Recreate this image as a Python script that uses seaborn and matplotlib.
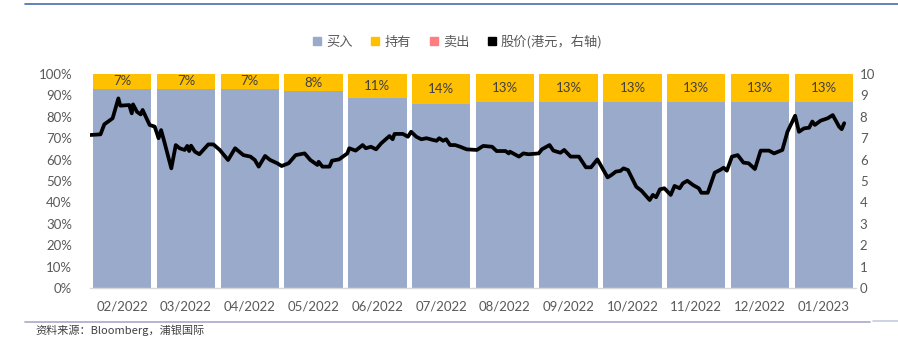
import matplotlib
matplotlib.use("Agg")
import matplotlib.pyplot as plt
from matplotlib.patches import Patch
from matplotlib.lines import Line2D
import seaborn as sns
import pandas as pd

# Analyst ratings share per month (%) and HK$ share price (right axis)
months = ["02/2022", "03/2022", "04/2022", "05/2022", "06/2022", "07/2022",
          "08/2022", "09/2022", "10/2022", "11/2022", "12/2022", "01/2023"]
buy = [93, 93, 93, 92, 89, 86, 87, 87, 87, 87, 87, 87]
hold = [7, 7, 7, 8, 11, 14, 13, 13, 13, 13, 13, 13]
sell = [0, 0, 0, 0, 0, 0, 0, 0, 0, 0, 0, 0]

# price timeline, in months elapsed since the start of 02/2022
price_t = [0.00, 0.16, 0.22, 0.35, 0.38, 0.44, 0.47, 0.61, 0.65, 0.67, 0.73, 0.79,
           0.82, 0.87, 0.93, 1.01, 1.07, 1.11, 1.16, 1.27, 1.34, 1.40, 1.48, 1.52,
           1.55, 1.58, 1.64, 1.71, 1.85, 1.93, 2.03, 2.16, 2.27, 2.40, 2.51, 2.58,
           2.64, 2.74, 2.82, 2.93, 3.00, 3.11, 3.22, 3.36, 3.45, 3.56, 3.58, 3.64,
           3.75, 3.79, 3.90, 4.03, 4.06, 4.16, 4.27, 4.32, 4.40, 4.48, 4.56, 4.69,
           4.74, 4.77, 4.90, 4.98, 5.03, 5.11, 5.19, 5.27, 5.37, 5.43, 5.47, 5.53,
           5.58, 5.64, 5.72, 5.80, 5.90, 6.06, 6.16, 6.30, 6.37, 6.51, 6.56, 6.58,
           6.72, 6.79, 6.87, 7.03, 7.08, 7.20, 7.26, 7.37, 7.43, 7.53, 7.66, 7.77,
           7.85, 7.95, 8.11, 8.17, 8.24, 8.31, 8.36, 8.43, 8.56, 8.64, 8.77, 8.82,
           8.87, 8.93, 9.00, 9.10, 9.16, 9.24, 9.29, 9.36, 9.45, 9.54, 9.58, 9.68,
           9.79, 9.87, 9.93, 9.98, 10.06, 10.15, 10.24, 10.32, 10.42, 10.51, 10.64,
           10.72, 10.85, 10.93, 11.05, 11.11, 11.19, 11.27, 11.32, 11.36, 11.45,
           11.56, 11.64, 11.74, 11.78, 11.82]
price = [7.15, 7.18, 7.65, 7.93, 8.24, 8.86, 8.52, 8.55, 8.16, 8.58, 8.24, 8.11,
         8.32, 8.00, 7.62, 7.54, 7.00, 7.38, 6.84, 5.59, 6.68, 6.53, 6.45, 6.64,
         6.40, 6.65, 6.37, 6.25, 6.71, 6.71, 6.45, 5.98, 6.53, 6.21, 6.14, 5.98,
         5.67, 6.17, 5.98, 5.83, 5.70, 5.83, 6.21, 6.29, 5.98, 5.75, 5.90, 5.67,
         5.67, 5.95, 6.01, 6.29, 6.53, 6.42, 6.68, 6.53, 6.60, 6.48, 6.76, 7.10,
         6.95, 7.20, 7.20, 7.07, 7.30, 7.07, 6.95, 7.00, 6.92, 6.88, 7.00, 6.88,
         6.95, 6.68, 6.68, 6.60, 6.48, 6.45, 6.64, 6.60, 6.40, 6.40, 6.29, 6.37,
         6.14, 6.29, 6.25, 6.29, 6.48, 6.68, 6.42, 6.32, 6.45, 6.14, 6.14, 5.64,
         5.64, 6.01, 5.17, 5.28, 5.44, 5.47, 5.59, 5.51, 4.73, 4.55, 4.11, 4.35,
         4.24, 4.61, 4.66, 4.35, 4.77, 4.66, 4.89, 5.01, 4.81, 4.66, 4.45, 4.45,
         5.39, 5.51, 5.62, 5.48, 6.14, 6.21, 5.86, 5.83, 5.56, 6.42, 6.42,
         6.29, 6.45, 7.30, 8.05, 7.30, 7.46, 7.49, 7.78, 7.62, 7.82,
         7.93, 8.08, 7.54, 7.42, 7.70]

legend_labels = ["买入", "持有", "卖出", "股价(港元，右轴)"]

C_BUY = "#9AAACB"
C_HOLD = "#FFC000"
C_SELL = "#FF7C80"
C_TXT = "#595959"

sns.set_theme(style="white")
plt.rcParams["font.family"] = ["Lato", "Noto Sans CJK SC", "DejaVu Sans"]

fig = plt.figure(figsize=(8.98, 3.37), dpi=100)
ax = fig.add_axes([90.3 / 898, 49 / 337, 765.4 / 898, 214 / 337])

df = pd.DataFrame({"month": months, "buy": buy, "hold": hold, "sell": sell})
bw = 0.915
sns.barplot(data=df, x="month", y="buy", color=C_BUY, width=bw,
            saturation=1, order=months, ax=ax, edgecolor="none")
sns.barplot(data=df, x="month", y="hold", bottom=df["buy"], color=C_HOLD, width=bw,
            saturation=1, order=months, ax=ax, edgecolor="none")
sns.barplot(data=df, x="month", y="sell", bottom=df["buy"] + df["hold"], color=C_SELL,
            width=bw, saturation=1, order=months, ax=ax, edgecolor="none")

for i, (b, h) in enumerate(zip(buy, hold)):
    ax.text(i, b + h / 2, f"{h}%", ha="center", va="center",
            fontsize=9.5, color="#404040")

ax.set_xlim(-0.5, len(months) - 0.5)
ax.set_ylim(0, 100)
ax.set_yticks(range(0, 101, 10))
ax.set_yticklabels([f"{v}%" for v in range(0, 101, 10)])
ax.set_xlabel("")
ax.set_ylabel("")
for s in ["top", "right", "left"]:
    ax.spines[s].set_visible(False)
ax.spines["bottom"].set_color("#D9D9D9")
ax.spines["bottom"].set_linewidth(1.0)
ax.tick_params(axis="both", length=0, labelsize=9.5, labelcolor=C_TXT)
ax.tick_params(axis="x", pad=9)
ax.tick_params(axis="y", pad=13)

ax2 = ax.twinx()
pdf = pd.DataFrame({"t": [t - 0.5 for t in price_t], "price": price})
sns.lineplot(data=pdf, x="t", y="price", color="black", linewidth=2.7,
             estimator=None, sort=False, ax=ax2)
ax2.set_ylim(0, 10)
ax2.set_yticks(range(0, 11))
ax2.set_xlim(-0.5, len(months) - 0.5)
ax2.set_ylabel("")
ax2.set_xlabel("")
for s in ax2.spines.values():
    s.set_visible(False)
ax2.tick_params(axis="y", length=0, labelsize=9.5, labelcolor=C_TXT, pad=3)

handles = [Patch(color=C_BUY), Patch(color=C_HOLD), Patch(color=C_SELL),
           Patch(color="black")]
fig.legend(handles, legend_labels, loc="center", bbox_to_anchor=(458 / 898, 1 - 42 / 337),
           ncol=4, frameon=False, handlelength=0.6, handleheight=0.6,
           handletextpad=0.4, columnspacing=1.4,
           prop={"family": ["Noto Sans CJK SC", "DejaVu Sans"], "size": 9.5},
           labelcolor=C_TXT)

# header and footer rules
fig.add_artist(Line2D([25 / 898, 1], [1 - 4 / 337] * 2, color="#4A6AAE", linewidth=1.2))
fig.add_artist(Line2D([25 / 898, 870 / 898], [1 - 322 / 337] * 2, color="#A9A9CC", linewidth=1.2))
fig.add_artist(Line2D([873 / 898, 1], [1 - 321 / 337] * 2, color="#C5CBE3", linewidth=1.2))

fig.text(35 / 898, 1 - 325 / 337, "资料来源：Bloomberg，浦银国际", ha="left", va="top",
         fontsize=8, color="#404040", family=["Noto Sans CJK SC", "DejaVu Sans"])

fig.savefig("out.png", dpi=100)
